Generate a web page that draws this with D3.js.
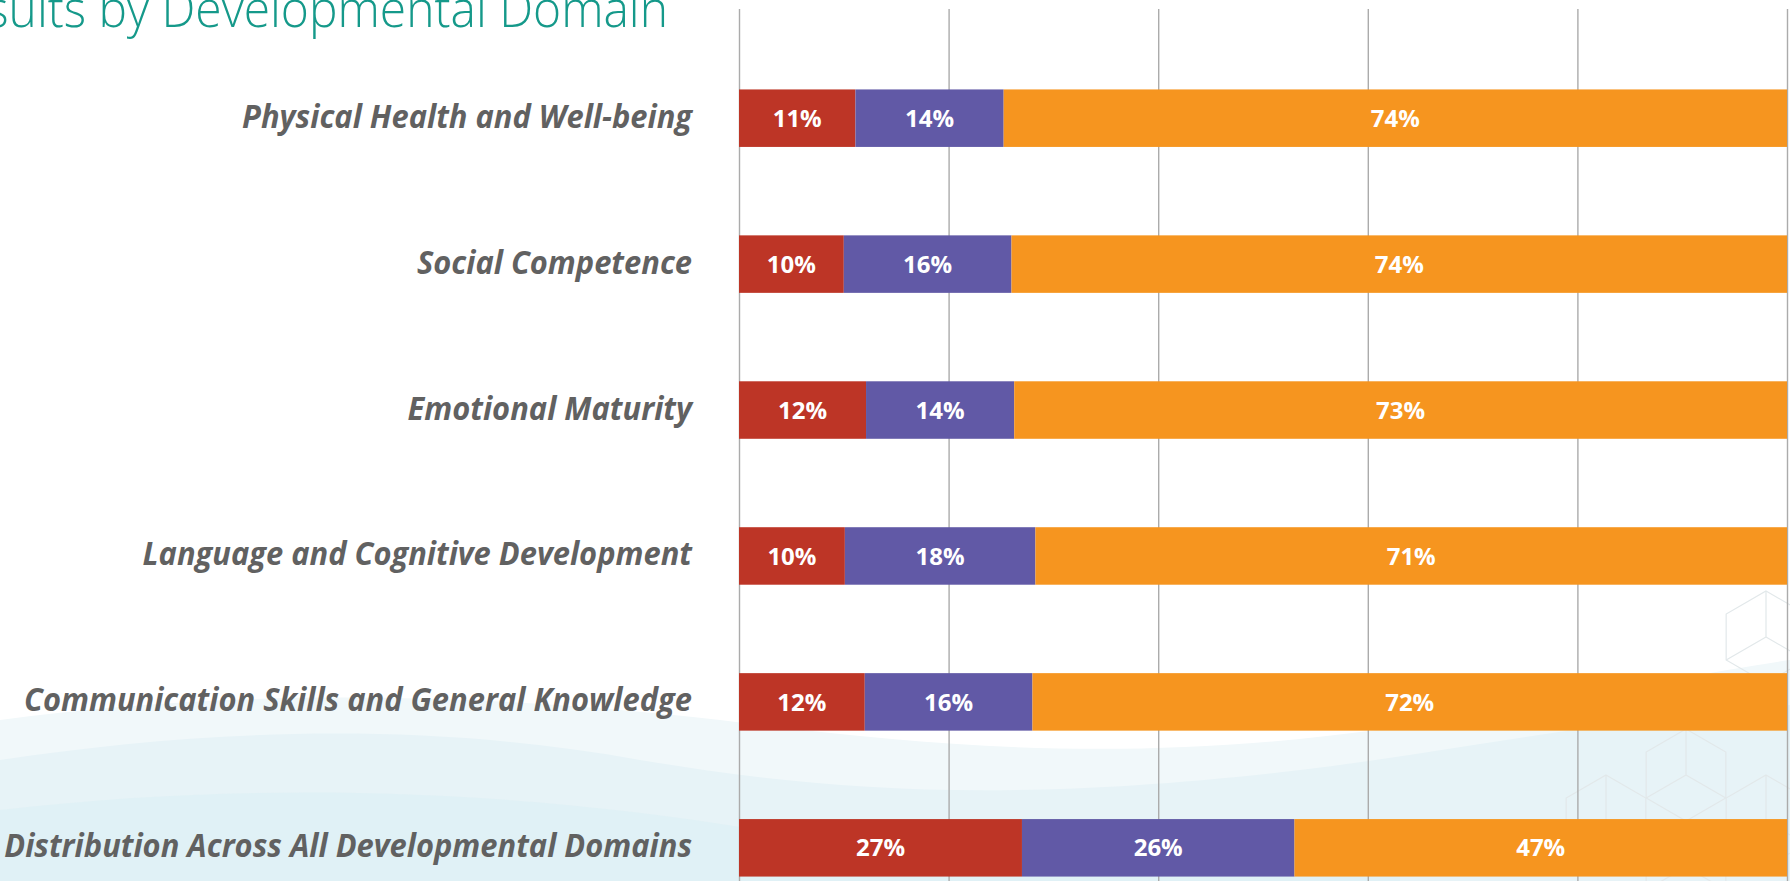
<!DOCTYPE html>
<html>
<head>
<meta charset="utf-8">
<script src="https://cdn.jsdelivr.net/npm/d3@7"></script>
<style>
  html, body { margin: 0; padding: 0; background: #fff; overflow: hidden; }
  svg { display: block; }
</style>
</head>
<body>
<div id="chart"></div>
<script>
// chart data, rows top to bottom
var domains = ["Physical Health and Well-being", "Social Competence", "Emotional Maturity",
  "Language and Cognitive Development", "Communication Skills and General Knowledge",
  "Distribution Across All Developmental Domains"];
var vulnerable = [11, 10, 12, 10, 12, 27];
var atRisk = [14, 16, 14, 18, 16, 26];
var onTrack = [74, 74, 73, 71, 72, 47];
var seriesKeys = ["vulnerable", "atRisk", "onTrack"];
var seriesColors = ["#bd3526", "#6159a6", "#f6951f"];
var gridTicks = [0, 0.2, 0.4, 0.6, 0.8, 1];
var title = "Results by Developmental Domain";

var width = 1790, height = 881;

var rows = domains.map(function(d, i) {
  return {domain: d, vulnerable: vulnerable[i], atRisk: atRisk[i], onTrack: onTrack[i]};
});

var svg = d3.select("#chart").append("svg")
  .attr("width", width)
  .attr("height", height);

// soft background waves + cube pattern
var bg = svg.append("g").attr("class", "bg");
bg.append("path")
  .attr("d", "M0,720 C220,690 460,690 720,720 C960,750 1180,770 1500,710 C1620,690 1720,670 1790,660 L1790,881 L0,881 Z")
  .attr("fill", "#f1f8fa");
bg.append("path")
  .attr("d", "M0,760 C200,730 420,720 640,760 C820,790 1000,805 1300,770 C1450,752 1600,720 1790,705 L1790,881 L0,881 Z")
  .attr("fill", "#e7f3f7");
bg.append("path")
  .attr("d", "M0,810 C260,780 520,790 760,830 C980,866 1200,860 1400,825 L1400,881 L0,881 Z")
  .attr("fill", "#dff0f5")
  .attr("opacity", 0.8);

var cubeR = 46;
var cubeCenters = [[1766, 637], [1686, 775], [1766, 821], [1606, 821], [1686, 867]];
var cubes = bg.selectAll(".cube").data(cubeCenters).enter().append("g")
  .attr("class", "cube")
  .attr("transform", function(d) { return "translate(" + d[0] + "," + d[1] + ")"; })
  .attr("fill", "none")
  .attr("stroke", "#e2e8ea")
  .attr("stroke-width", 1.2);
cubes.append("path").attr("d", function() {
  var p = d3.range(6).map(function(k) {
    var a = Math.PI / 3 * k - Math.PI / 2;
    return [cubeR * Math.cos(a), cubeR * Math.sin(a)];
  });
  return "M" + p.join("L") + "Z";
});
cubes.append("path").attr("d", function() {
  var s = cubeR * Math.sqrt(3) / 2;
  return "M0,0L0," + (-cubeR) + "M0,0L" + (-s) + "," + (cubeR / 2) + "M0,0L" + s + "," + (cubeR / 2);
});

// scales
var x = d3.scaleLinear().domain([0, 1]).range([739, 1787]);
var y = d3.scaleBand().domain(domains).range([1, 965]).paddingInner(0.606).paddingOuter(0.606);
var color = d3.scaleOrdinal().domain(seriesKeys).range(seriesColors);

// vertical grid lines
svg.append("g")
  .attr("class", "grid")
  .attr("transform", "translate(0," + height + ")")
  .call(d3.axisBottom(x).tickValues(gridTicks).tickSize(-(height - 9)).tickFormat(""))
  .call(function(g) { g.select(".domain").remove(); })
  .selectAll("line")
  .attr("stroke", "#ababab")
  .attr("stroke-width", 1.4);

// stacked bars, each row filling the full width
var stack = d3.stack().keys(seriesKeys).offset(d3.stackOffsetExpand);
var layers = stack(rows);

var layer = svg.append("g").selectAll("g").data(layers)
  .enter().append("g")
  .attr("fill", function(d) { return color(d.key); });

layer.selectAll("rect")
  .data(function(d) { return d; })
  .enter().append("rect")
  .attr("x", function(d) { return x(d[0]); })
  .attr("y", function(d) { return y(d.data.domain); })
  .attr("width", function(d) { return x(d[1]) - x(d[0]); })
  .attr("height", y.bandwidth());

// value labels
layer.each(function(L) {
  d3.select(this).selectAll("text")
    .data(L)
    .enter().append("text")
    .attr("x", function(d) { return x((d[0] + d[1]) / 2); })
    .attr("y", function(d) { return y(d.data.domain) + y.bandwidth() / 2; })
    .attr("dy", "0.36em")
    .attr("text-anchor", "middle")
    .attr("fill", "#fff")
    .style("font-family", "'Open Sans', sans-serif")
    .style("font-weight", "bold")
    .style("font-size", "24px")
    .text(function(d) { return d.data[L.key] + "%"; });
});

// category labels
svg.append("g").selectAll("text")
  .data(domains)
  .enter().append("text")
  .attr("transform", function(d) { return "translate(692," + (y(d) + y.bandwidth() / 2 - 2) + ") scale(0.965,1)"; })
  .attr("dy", "0.36em")
  .attr("text-anchor", "end")
  .attr("fill", "#616161")
  .style("font-family", "'Open Sans', sans-serif")
  .style("font-weight", "bold")
  .style("font-style", "italic")
  .style("font-size", "32px")
  .text(function(d) { return d; });

// title, cut at the left edge like the slide crop
svg.append("text")
  .attr("transform", "translate(668,27) scale(0.94,1)")
  .attr("text-anchor", "end")
  .attr("fill", "#15998a")
  .style("font-family", "'Open Sans', sans-serif")
  .style("font-weight", "300")
  .style("font-size", "51px")
  .text(title);
</script>
</body>
</html>
